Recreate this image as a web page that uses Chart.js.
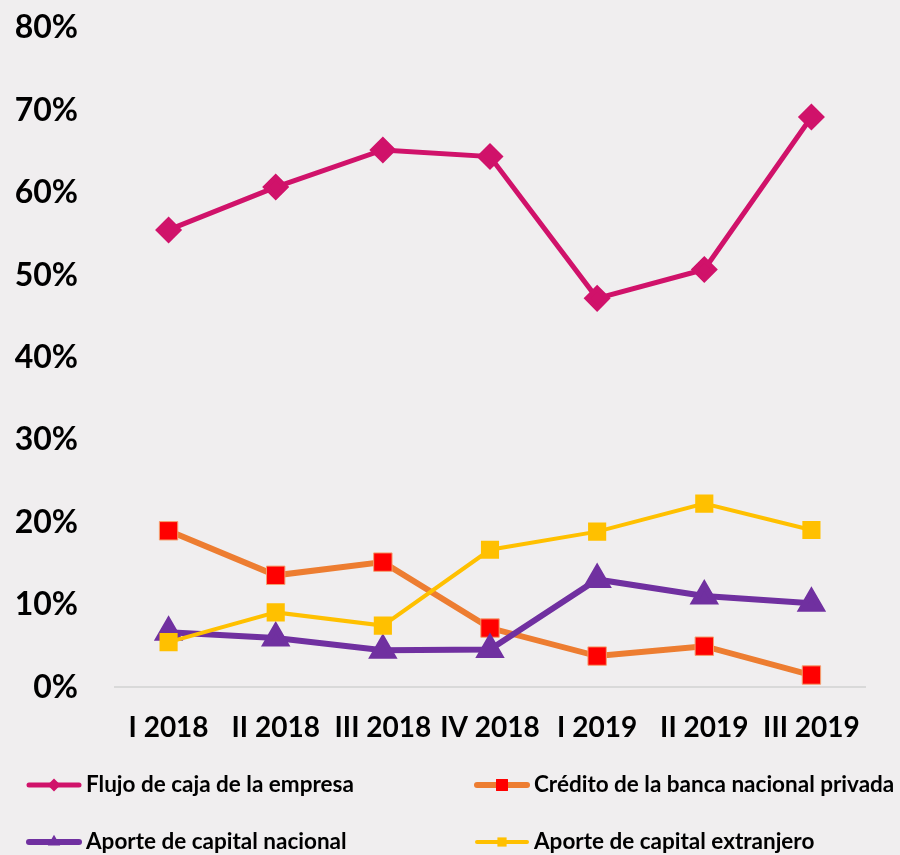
<!DOCTYPE html>
<html>
<head>
<meta charset="utf-8">
<script src="https://cdn.jsdelivr.net/npm/chart.js@4.4.1/dist/chart.umd.min.js"></script>
<style>
  html, body { margin: 0; padding: 0; background: #f0eeef; }
  #wrap { width: 900px; height: 855px; position: relative; }
</style>
</head>
<body>
<div id="wrap"><canvas id="chart"></canvas></div>
<script>
const quarters = ["I 2018", "II 2018", "III 2018", "IV 2018", "I 2019", "II 2019", "III 2019"];
const seriesNames = [
  "Flujo de caja de la empresa",
  "Crédito de la banca nacional privada",
  "Aporte de capital nacional",
  "Aporte de capital extranjero",
];
const flujoCaja = [55.5, 60.7, 65.2, 64.4, 47.2, 50.7, 69.2];
const creditoBanca = [19.0, 13.6, 15.2, 7.2, 3.8, 5.0, 1.5];
const capitalNacional = [6.7, 6.0, 4.5, 4.6, 13.1, 11.1, 10.2];
const capitalExtranjero = [5.5, 9.1, 7.5, 16.7, 18.9, 22.3, 19.1];
const yTicks = [0, 10, 20, 30, 40, 50, 60, 70, 80];

const FONT = "Lato, 'Open Sans', sans-serif";

// legend in two columns, drawn below the axis
const gridLegend = {
  id: "gridLegend",
  afterDraw(chart) {
    const ctx = chart.ctx;
    const colX = [26, 474];
    const rowY = [785, 842];
    chart.data.datasets.forEach((ds, i) => {
      const x = colX[i % 2];
      const y = rowY[Math.floor(i / 2)];
      ctx.save();
      ctx.strokeStyle = ds.borderColor;
      ctx.lineWidth = ds.borderWidth;
      ctx.lineCap = "round";
      ctx.beginPath();
      ctx.moveTo(x + 3, y);
      ctx.lineTo(x + 53, y);
      ctx.stroke();
      ctx.fillStyle = ds.pointBackgroundColor;
      ctx.strokeStyle = ds.pointBorderColor;
      ctx.lineWidth = 1;
      Chart.helpers.drawPoint(ctx, { pointStyle: ds.pointStyle, radius: ds.pointRadius * 0.65, rotation: 0 }, x + 28, y);
      ctx.fillStyle = "#000";
      ctx.font = "bold 22.5px " + FONT;
      ctx.textAlign = "left";
      ctx.textBaseline = "middle";
      ctx.fillText(ds.label, x + 60, y);
      ctx.restore();
    });
  },
};

new Chart(document.getElementById("chart"), {
  type: "line",
  data: {
    labels: quarters,
    datasets: [
      {
        label: seriesNames[0],
        data: flujoCaja,
        borderColor: "#d0126a",
        borderWidth: 5,
        pointStyle: "rectRot",
        pointRadius: 10,
        pointBackgroundColor: "#d0126a",
        pointBorderColor: "#d0126a",
        order: 4,
      },
      {
        label: seriesNames[1],
        data: creditoBanca,
        borderColor: "#ed7d31",
        borderWidth: 6,
        pointStyle: "rect",
        pointRadius: 13,
        pointBackgroundColor: "#ff0000",
        pointBorderColor: "#f4a070",
        pointBorderWidth: 1,
        order: 3,
      },
      {
        label: seriesNames[2],
        data: capitalNacional,
        borderColor: "#7030a0",
        borderWidth: 6,
        pointStyle: "triangle",
        pointRadius: 11,
        pointBackgroundColor: "#7030a0",
        pointBorderColor: "#7030a0",
        order: 2,
      },
      {
        label: seriesNames[3],
        data: capitalExtranjero,
        borderColor: "#ffc000",
        borderWidth: 4,
        pointStyle: "rect",
        pointRadius: 10,
        pointBackgroundColor: "#ffc000",
        pointBorderColor: "#ffc000",
        order: 1,
      },
    ],
  },
  options: {
    responsive: true,
    maintainAspectRatio: false,
    animation: false,
    layout: { padding: { top: 28, left: 15, right: 35, bottom: 86 } },
    elements: { line: { tension: 0 } },
    plugins: {
      legend: { display: false },
      tooltip: { enabled: false },
    },
    scales: {
      x: {
        offset: true,
        grid: { display: false, drawTicks: false },
        border: { display: true, color: "#d9d9d9", width: 2 },
        ticks: {
          color: "#000",
          padding: 24,
          maxRotation: 0,
          minRotation: 0,
          autoSkip: false,
          font: { family: FONT, size: 28, weight: "bold" },
        },
      },
      y: {
        min: 0,
        max: 80,
        afterBuildTicks: (axis) => { axis.ticks = yTicks.map((v) => ({ value: v })); },
        afterFit: (axis) => {
          axis.width = 100;
          axis.paddingTop = 0;
          axis.paddingBottom = 0;
        },
        grid: { display: false, drawTicks: false },
        border: { display: false },
        ticks: {
          color: "#000",
          padding: 37,
          font: { family: FONT, size: 32, weight: "bold" },
          callback: (v) => v + "%",
        },
      },
    },
  },
  plugins: [gridLegend],
});
</script>
</body>
</html>
